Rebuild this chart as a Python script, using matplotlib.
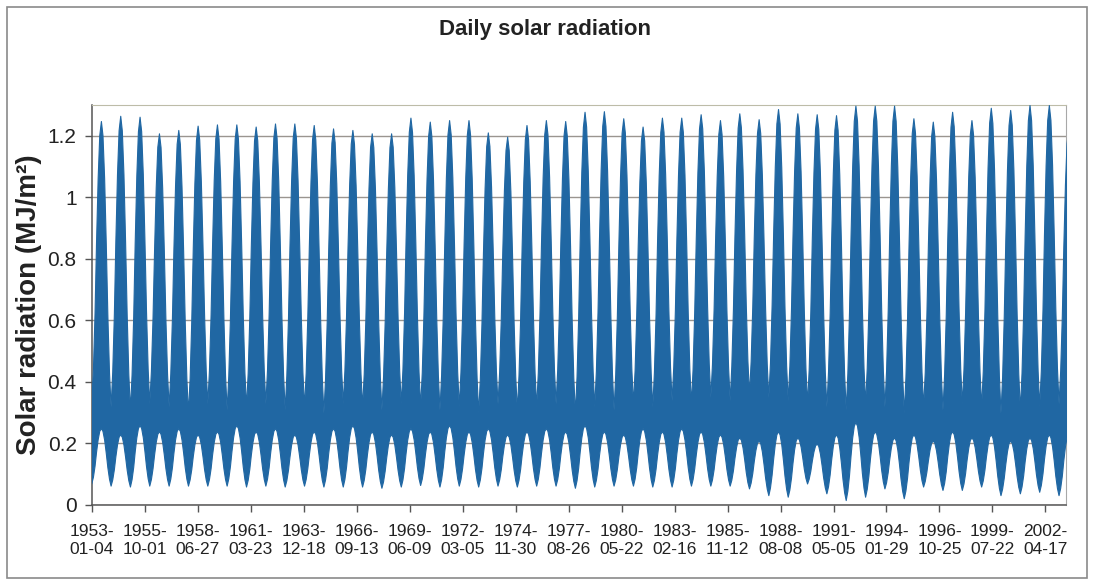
import numpy as np
import matplotlib
matplotlib.use("Agg")
import matplotlib.pyplot as plt
import matplotlib.dates as mdates
from matplotlib.patches import Rectangle

# ---------------- data ----------------
years = list(range(1953, 2004))
# yearly summer maximum of the daily series
peak_upper = [1.248, 1.265, 1.262, 1.208, 1.219, 1.233, 1.237, 1.237, 1.230, 1.240,
              1.240, 1.235, 1.224, 1.219, 1.208, 1.208, 1.259, 1.246, 1.251, 1.251,
              1.211, 1.197, 1.235, 1.251, 1.248, 1.278, 1.280, 1.257, 1.230, 1.259,
              1.259, 1.270, 1.251, 1.273, 1.254, 1.287, 1.273, 1.270, 1.267, 1.298,
              1.298, 1.298, 1.257, 1.246, 1.278, 1.251, 1.291, 1.284, 1.300, 1.300,
              1.220]
# winters 1952/53 ... 2002/03: top of the band in mid-winter
winter_upper = [0.33, 0.32, 0.31, 0.33, 0.32, 0.30, 0.33, 0.31, 0.32, 0.33,
                0.31, 0.32, 0.30, 0.33, 0.32, 0.31, 0.33, 0.32, 0.31, 0.32,
                0.30, 0.33, 0.31, 0.32, 0.33, 0.30, 0.32, 0.31, 0.33, 0.32,
                0.34, 0.33, 0.35, 0.34, 0.36, 0.35, 0.34, 0.33, 0.32, 0.31,
                0.33, 0.32, 0.30, 0.32, 0.31, 0.33, 0.32, 0.30, 0.31, 0.32,
                0.33]
# winters 1952/53 ... 2002/03: lowest daily value
winter_lower = [0.070,
                0.063, 0.060, 0.063, 0.063, 0.063, 0.063, 0.063, 0.060, 0.063, 0.060,
                0.063, 0.060, 0.060, 0.060, 0.056, 0.060,
                0.065,
                0.060, 0.063, 0.060, 0.063, 0.060, 0.063, 0.063, 0.056, 0.060, 0.063,
                0.063, 0.060, 0.060, 0.063, 0.063, 0.063,
                0.054, 0.032, 0.027, 0.070, 0.038, 0.016, 0.027, 0.054, 0.022, 0.060,
                0.049, 0.049, 0.060, 0.032, 0.038, 0.043, 0.032]
# summers 1953 ... 2003: lowest daily value in summer
summer_lower = [0.25, 0.23, 0.26, 0.24, 0.25, 0.23, 0.24, 0.26, 0.24, 0.25,
                0.23, 0.24, 0.25, 0.26, 0.24, 0.23, 0.25, 0.24, 0.26, 0.24,
                0.25, 0.23, 0.24, 0.25, 0.24, 0.26, 0.24, 0.23, 0.25, 0.24,
                0.25, 0.24, 0.23, 0.22, 0.21, 0.24, 0.22, 0.20, 0.23, 0.27,
                0.24, 0.22, 0.23, 0.21, 0.24, 0.22, 0.23, 0.21, 0.22, 0.23,
                0.23]
# typical seasonal position within the band (21st of Jan ... Dec)
season_profile = [0.12, 0.32, 0.57, 0.80, 0.95, 1.00, 0.95, 0.80, 0.57, 0.32, 0.12, 0.00]

tick_labels = ["1953-01-04", "1955-10-01", "1958-06-27", "1961-03-23", "1963-12-18",
               "1966-09-13", "1969-06-09", "1972-03-05", "1974-11-30", "1977-08-26",
               "1980-05-22", "1983-02-16", "1985-11-12", "1988-08-08", "1991-05-05",
               "1994-01-29", "1996-10-25", "1999-07-22", "2002-04-17"]
start_date = "1953-01-04"
end_date = "2003-05-11"

# ---------------- build band ----------------
dates = [np.datetime64("1952-12-21")]
upper = [winter_upper[0]]
lower = [winter_lower[0]]
for i, y in enumerate(years):
    for m in range(1, 13):
        if y == years[-1] and m > 6:
            break
        w = i if m <= 6 else i + 1
        f = season_profile[m - 1]
        dates.append(np.datetime64(f"{y}-{m:02d}-21"))
        upper.append(winter_upper[w] + f * (peak_upper[i] - winter_upper[w]))
        lower.append(winter_lower[w] + f * (summer_lower[i] - winter_lower[w]))

x = mdates.date2num(np.array(dates, dtype="datetime64[D]"))

# ---------------- figure ----------------
W, H = 1094, 581
fig = plt.figure(figsize=(W / 100, H / 100), dpi=100)
plt.rcParams["font.family"] = ["Liberation Sans", "DejaVu Sans"]

fig.patches.append(Rectangle((7 / W, 1 - 578 / H), (1087 - 7) / W, (578 - 7) / H,
                             transform=fig.transFigure, fill=False,
                             edgecolor="#8a8a8a", lw=1.2))

ax = fig.add_axes([92 / W, 1 - 505 / H, (1066 - 92) / W, (505 - 105) / H])
blue = "#2067a3"
ax.fill_between(x, lower, upper, color=blue, lw=0.8, edgecolor=blue, zorder=3)

ax.set_ylim(0, 1.3)
ax.set_xlim(mdates.date2num(np.datetime64(start_date)),
            mdates.date2num(np.datetime64(end_date)))
ax.set_yticks([0, 0.2, 0.4, 0.6, 0.8, 1.0, 1.2])
ax.set_yticklabels(["0", "0.2", "0.4", "0.6", "0.8", "1", "1.2"])
ax.set_xticks(mdates.date2num(np.array(tick_labels, dtype="datetime64[D]")))
ax.set_xticklabels([s[:5] + "\n" + s[5:] for s in tick_labels], linespacing=1.25)

ax.grid(axis="y", color="#9a9590", lw=1.0, zorder=1)
ax.tick_params(axis="y", direction="out", length=5, width=1, color="#555555",
               labelsize=15, pad=6, labelcolor="#222222")
ax.tick_params(axis="x", direction="out", length=5, width=1, color="#555555",
               labelsize=12.5, pad=9, labelcolor="#222222")
for s in ["left", "bottom"]:
    ax.spines[s].set_color("#555555")
    ax.spines[s].set_linewidth(1.1)
ax.spines["top"].set_color("#bdbca8")
ax.spines["right"].set_color("#a8a8a8")

fig.text(545 / W, 1 - 30 / H, "Daily solar radiation", ha="center", va="center",
         fontsize=16, fontweight="bold", color="#222222")
fig.text(29 / W, 1 - 305 / H, "Solar radiation (MJ/m²)", ha="center", va="center",
         rotation=90, fontsize=20, fontweight="bold", color="#222222")

fig.savefig("out.png", dpi=100)
